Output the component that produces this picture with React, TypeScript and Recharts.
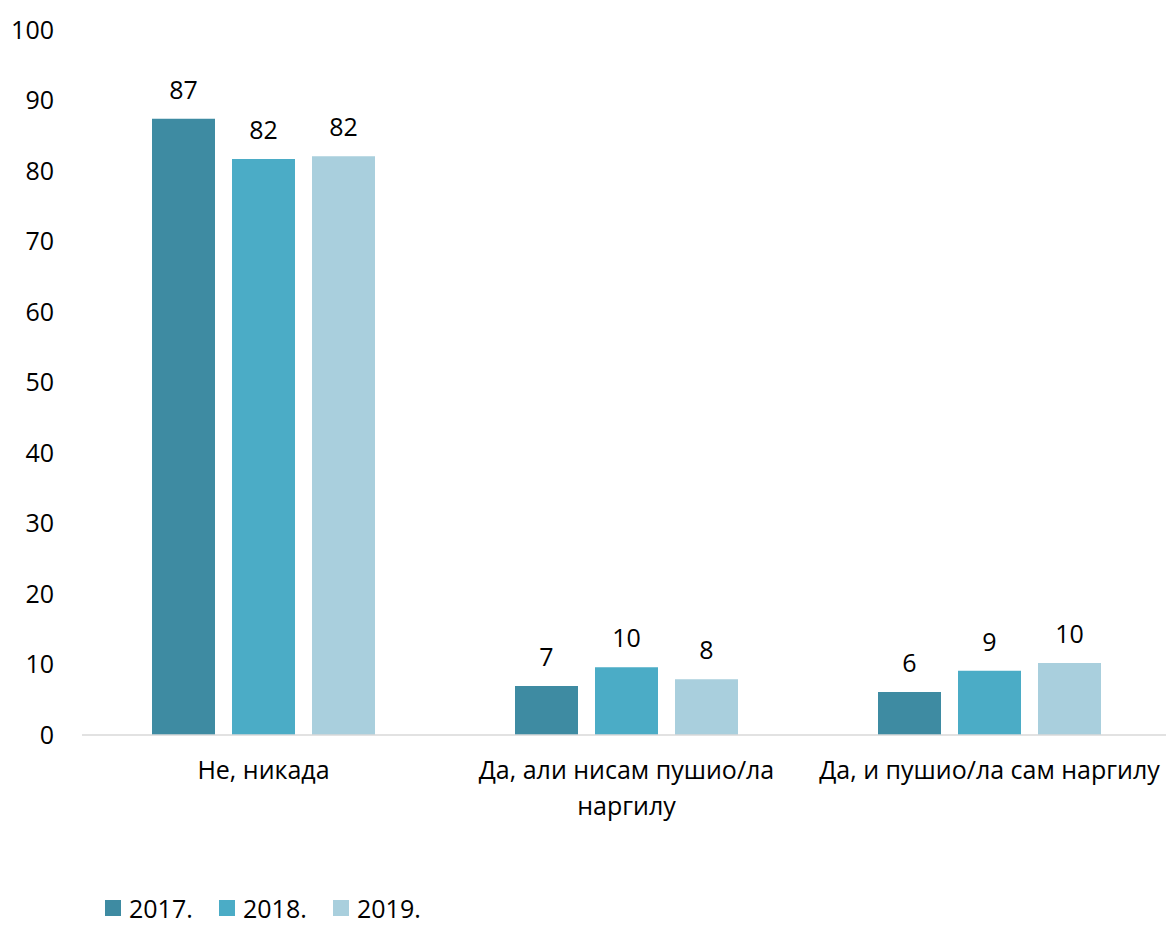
import React from 'react';
import { BarChart, Bar, XAxis, YAxis, LabelList, Legend } from 'recharts';

const categories = ['Не, никада', 'Да, али нисам пушио/ла наргилу', 'Да, и пушио/ла сам наргилу'];
const categoryLines = [['Не, никада'], ['Да, али нисам пушио/ла', 'наргилу'], ['Да, и пушио/ла сам наргилу']];
const values2017 = [87.4, 6.95, 6.1];
const values2018 = [81.7, 9.6, 9.1];
const values2019 = [82.1, 7.9, 10.2];
const seriesNames = ['2017.', '2018.', '2019.'];
const seriesColors = ['#3E8BA2', '#4BACC6', '#A9CFDD'];
const yTicks = [0, 10, 20, 30, 40, 50, 60, 70, 80, 90, 100];

const data = categories.map((c, i) => ({
  name: c,
  s2017: values2017[i],
  s2018: values2018[i],
  s2019: values2019[i],
}));

const FONT = '"Open Sans", sans-serif';

const XTick = (props: any) => {
  const { x, y, index } = props;
  const lines = categoryLines[index] || [props.payload.value];
  return (
    <text x={x} y={y} textAnchor="middle" fontFamily={FONT} fontSize={25} fill="#000">
      {lines.map((l: string, i: number) => (
        <tspan key={i} x={x} dy={36}>{l}</tspan>
      ))}
    </text>
  );
};

const LegendContent = () => (
  <div style={{ position: 'relative', height: 40, fontFamily: FONT, fontSize: 25, color: '#000' }}>
    {seriesNames.map((n, i) => (
      <div key={n} style={{ position: 'absolute', left: 105 + i * 114, top: 9, display: 'flex', alignItems: 'center', lineHeight: '26px', height: 26 }}>
        <span style={{ display: 'inline-block', width: 16, height: 16, background: seriesColors[i], marginRight: 8 }} />
        <span>{n}</span>
      </div>
    ))}
  </div>
);

const fmt = (v: any) => Math.round(Number(v));

export default function App() {
  const keys = ['s2017', 's2018', 's2019'];
  return (
    <div style={{ position: 'absolute', left: 0, top: 0, background: '#fff', width: 1166, height: 926, overflow: 'visible' }}>
      <BarChart
        width={1166}
        height={926}
        data={data}
        margin={{ top: 30, right: -5, left: 0, bottom: 0 }}
        barSize={63}
        barGap={17}
        style={{ overflow: 'visible' }}
      >
        <XAxis
          dataKey="name"
          tick={<XTick />}
          tickLine={false}
          axisLine={{ stroke: '#D9D9D9', strokeWidth: 1.5 }}
          height={151}
          interval={0}
        />
        <YAxis
          domain={[0, 100]}
          ticks={yTicks}
          width={82}
          axisLine={false}
          tickLine={false}
          tickMargin={22}
          tick={{ fontFamily: FONT, fontSize: 25, fill: '#000' }}
        />
        <Legend verticalAlign="bottom" height={40} content={<LegendContent />} />
        {keys.map((k, i) => (
          <Bar key={k} dataKey={k} name={seriesNames[i]} fill={seriesColors[i]} isAnimationActive={false}>
            <LabelList dataKey={k} position="top" offset={20} formatter={fmt} style={{ fontFamily: FONT, fontSize: 25, fill: '#000' }} />
          </Bar>
        ))}
      </BarChart>
    </div>
  );
}
